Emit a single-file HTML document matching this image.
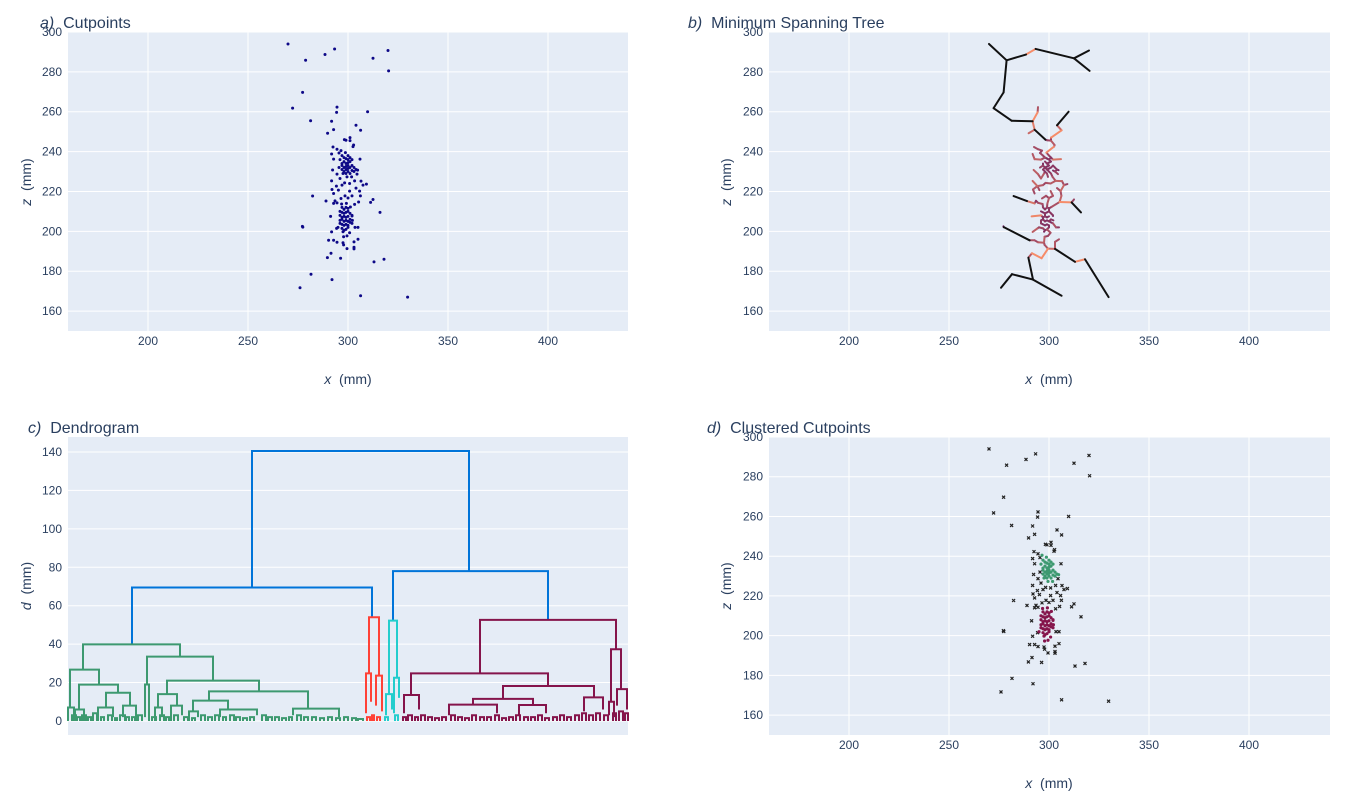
<!DOCTYPE html>
<html><head><meta charset="utf-8">
<style>
body{margin:0;background:#fff;}
svg{display:block;font-family:"Liberation Sans",sans-serif;}
.tick{font-size:12px;fill:#2a3f5f;}
.ttl{font-size:16px;fill:#2a3f5f;}
.axt{font-size:14px;fill:#2a3f5f;}
</style></head>
<body>
<svg id="fig" width="1366" height="801" viewBox="0 0 1366 801">
<g id="bg"></g>
<g id="marks"></g>
<g id="labels"></g>
<text class="ttl" x="40" y="28"><tspan font-style="italic">a)</tspan>&#160;&#160;Cutpoints</text>
<text class="ttl" x="688" y="28"><tspan font-style="italic">b)</tspan>&#160;&#160;Minimum Spanning Tree</text>
<text class="ttl" x="28" y="433"><tspan font-style="italic">c)</tspan>&#160;&#160;Dendrogram</text>
<text class="ttl" x="707" y="433"><tspan font-style="italic">d)</tspan>&#160;&#160;Clustered Cutpoints</text>
<text class="axt" x="348" y="384" text-anchor="middle"><tspan font-style="italic">x</tspan>&#160;&#160;(mm)</text>
<text class="axt" x="1049" y="384" text-anchor="middle"><tspan font-style="italic">x</tspan>&#160;&#160;(mm)</text>
<text class="axt" x="1049" y="788" text-anchor="middle"><tspan font-style="italic">x</tspan>&#160;&#160;(mm)</text>
<text class="axt" transform="translate(31,182) rotate(-90)" text-anchor="middle"><tspan font-style="italic">z</tspan>&#160;&#160;(mm)</text>
<text class="axt" transform="translate(731,182) rotate(-90)" text-anchor="middle"><tspan font-style="italic">z</tspan>&#160;&#160;(mm)</text>
<text class="axt" transform="translate(31,586) rotate(-90)" text-anchor="middle"><tspan font-style="italic">d</tspan>&#160;&#160;(mm)</text>
<text class="axt" transform="translate(731,586) rotate(-90)" text-anchor="middle"><tspan font-style="italic">z</tspan>&#160;&#160;(mm)</text>
</svg>
<script>
// ---- data ----
const noisePts=[[270,294],[293.3,291.5],[288.5,288.7],[278.8,285.8],[312.5,286.8],[320,290.7],[320.3,280.5],[277.3,269.7],[272.3,261.8],[294.5,262.3],[294.3,259.7],[309.8,260],[281.3,255.5],[291.8,255.2],[304,253.2],[292.8,251],[306.3,250.7],[289.8,249.2],[282.3,217.7],[289,215.2],[312.5,216],[311.3,214.5],[316,209.5],[277.2,202.5],[277.4,202.1],[291.5,189],[289.7,186.8],[296.3,186.5],[313,184.7],[318,186],[281.5,178.5],[292,175.8],[276,171.7],[306.3,167.7],[329.8,167],
[298.2,246],[299,245.7],[301,247],[301,245.5],[302.8,243.3],[302.5,242.5],[292.5,242.3],[294.5,241.2],[295.5,239.3],[291.8,238.8],[306,236.2],[292.8,236.2],[292.3,230.8],[295.5,232],[294.5,228.7],[291.8,225.3],[296,226.5],[304.5,228.7],[306.5,225.2],[309.2,223.7],[307.5,223.2],[303.3,225.3],[300.8,224],[298.3,224.3],[297,223.2],[294.2,222.7],[304,221.7],[300.8,220.2],[292,221],[292.8,219],[295.2,220.7],[305.8,220.2],[306.2,217.8],[302,217.8],[298.5,217.8],[296.5,216.5],[300,216.7],[305.3,214.7],[303.3,213.5],[293.5,215.3],[294.5,214.3],[292.8,214],[291.3,207.5],[303.5,202],[305,202],[294.3,201.5],[291.8,199.7],[290.3,195.5],[292.8,195.5],[294.5,194.5],[297.5,194.3],[303,194.7],[305,196],[297.8,193.2],[299.5,191.3],[303,192],[303,191.2]];
const cluster1Pts=[[297,238],[298,237],[299,236.5],[300,236],[301,237],[298,235],[299,234],[300,234.5],[301,235],[297,233],[298,232],[299,232.5],[300,233],[302,233],[296,236],[297,231],[299,231],[300,231.5],[301,232],[303,232],[298,230],[300,230],[302,230.5],[303,230],[299,229],[301,229],[304,231],[297,234],[302,236],[300,238],[297.5,229],[299.5,227.3],[301.8,227.3],[304.8,230.7],[298.7,239.5],[296.5,240.5]];
const cluster2Pts=[[297,212],[298,211],[299,212],[300,211.5],[296,210],[297,209.5],[298,209],[299,209.5],[300,210],[301,209],[296,208],[297,207],[298,207.5],[299,207],[300,207.5],[302,208],[297,206],[298,205],[299,205.5],[300,205],[301,206],[296,204],[297,203.5],[298,203],[299,203.5],[300,203],[302,204],[295,202],[297,201.5],[299,201],[300,202],[298,200.5],[301,204.5],[296,205.5],[296.8,213.7],[299.2,214],[301.2,212.2],[302,207.7],[302.2,205.5],[297.5,199.8],[300.8,199.3],[297.8,197.3],[299.5,197.7]];
// dendrogram links: [xLeft, xRight, dLeftBottom, dRightBottom, dTop, colour]  (x in leaf units 0..560)
const dendroLinks=[
[184,401,69.5,78,140.5,'b'],[64,304,39.9,54,69.5,'b'],[325,480,52.2,52.6,78,'b'],
[15,112,26.7,33.5,39.9,'g'],[2,31,7,18.9,26.7,'g'],[0,6,0,0,7,'g'],[11,50,6,14.7,18.9,'g'],[7,16,0,0,6,'g'],[38,62,7,8,14.7,'g'],[30,45,0,2,7,'g'],[55,68,2,0,8,'g'],
[79,145,19,21,33.5,'g'],[77,81,2,0,19,'g'],[99,191,14,15.4,21,'g'],[90,109,7,8,14,'g'],[87,94,0,2,7,'g'],[103,114,0,3,8,'g'],
[141,240,10.6,6.4,15.4,'g'],[125,160,5,6,10.6,'g'],[121,130,0,2,5,'g'],[152,189,2,3,6,'g'],[225,271,3,2,6.4,'g'],
[301,311,24.8,23.6,54,'r'],[298,303,4,10,24.8,'r'],[308,314,8,5,23.6,'r'],
[321,329,14,22.5,52.2,'c'],[318,324,3,6,14,'c'],[326,331,4,12,22.5,'c'],
[412,548,24.8,37.3,52.6,'p'],[343,480,13.5,18.2,24.8,'p'],[336,351,4,6,13.5,'p'],[435,526,11.5,12.3,18.2,'p'],[405,465,8.5,8.3,11.5,'p'],[381,429,3,4,8.5,'p'],[451,478,3,4,8.3,'p'],[516,535,5,6,12.3,'p'],
[543,553,10,16.6,37.3,'p'],[541,546,3,2,10,'p'],[549,559,8,6,16.6,'p']];
// small leaf-level merges: [xLeft, xRight, dTop, colour]
const dendroSmall=[[4,8,3,'g'],[9,12,2,'g'],[14,18,3,'g'],[20,23,2,'g'],[25,29,4,'g'],[33,36,2,'g'],[40,44,3,'g'],[47,49,1.5,'g'],[52,57,3,'g'],[58,61,2,'g'],[64,67,2,'g'],[70,74,3,'g'],[84,88,2,'g'],[92,96,3,'g'],[98,101,2,'g'],[106,110,3,'g'],[116,120,2,'g'],[124,127,1.5,'g'],[133,137,3,'g'],[140,144,2,'g'],[147,151,3,'g'],[155,158,2,'g'],[162,166,3,'g'],[168,172,2,'g'],[175,179,1.5,'g'],[182,186,2,'g'],[194,198,3,'g'],[200,204,2,'g'],[207,211,2,'g'],[214,218,1.5,'g'],[221,224,2,'g'],[229,233,3,'g'],[236,240,2,'g'],[244,248,2,'g'],[252,256,1.5,'g'],[260,264,2,'g'],[268,272,1.5,'g'],[276,280,2,'g'],[284,288,1.5,'g'],[290,295,1,'g'],
[299,302,2,'r'],[304,306,3,'r'],[309,312,2,'r'],[317,320,2,'c'],[327,330,3,'c'],
[335,338,2,'p'],[340,344,3,'p'],[347,350,2,'p'],[353,357,3,'p'],[360,364,2,'p'],[367,371,1.5,'p'],[374,378,2,'p'],[383,387,3,'p'],[390,394,2,'p'],[397,401,1.5,'p'],[404,408,3,'p'],[412,416,2,'p'],[419,423,2,'p'],[427,431,3,'p'],[434,438,1.5,'p'],[441,445,2,'p'],[448,452,3,'p'],[456,460,2,'p'],[463,467,2,'p'],[470,474,3,'p'],[477,481,1.5,'p'],[485,489,2,'p'],[492,496,3,'p'],[499,503,2,'p'],[507,511,3,'p'],[514,518,4,'p'],[521,525,3,'p'],[528,532,4,'p'],[536,540,3,'p'],[545,548,4,'p'],[551,555,5,'p'],[557,560,4,'p']];
const xTicks=[200,250,300,350,400];
const zTicks=[160,180,200,220,240,260,280,300];
const dTicks=[0,20,40,60,80,100,120,140];
const dendroColors={b:'rgb(0,116,217)',g:'rgb(61,153,112)',r:'rgb(255,65,54)',c:'rgb(35,205,205)',p:'rgb(133,20,75)'};

// ---- helpers ----
const NS='http://www.w3.org/2000/svg';
const bg=document.getElementById('bg'),mk=document.getElementById('marks'),lb=document.getElementById('labels');
function el(tag,attrs,parent){const e=document.createElementNS(NS,tag);for(const k in attrs)e.setAttribute(k,attrs[k]);parent.appendChild(e);return e;}
function scale(d0,d1,p0,p1){return v=>p0+(v-d0)*(p1-p0)/(d1-d0);}
const panels={
 a:{x0:68,x1:628,y0:32,y1:331,sx:scale(160,440,68,628),sy:scale(150,300,331,32)},
 b:{x0:769,x1:1330,y0:32,y1:331,sx:scale(160,440,769,1329),sy:scale(150,300,331,32)},
 c:{x0:68,x1:628,y0:437,y1:735,sx:scale(0,560,68,628),sy:scale(-7.3,147.8,735,437)},
 d:{x0:769,x1:1330,y0:437,y1:735,sx:scale(160,440,769,1329),sy:scale(150,300,735,437)}
};
for(const key in panels){
 const p=panels[key];
 const r=el('rect',{x:p.x0,y:p.y0,width:p.x1-p.x0,height:p.y1-p.y0,fill:'#e5ecf6'},bg);
 
 
 const yt=key==='c'?dTicks:zTicks;
 yt.forEach(t=>{const y=p.sy(t);
  const g=el('line',{x1:p.x0,x2:p.x1,y1:y,y2:y,stroke:'#fff','stroke-width':1},bg);
  
  
  const tx=el('text',{x:p.x0-6,y:y+4,'text-anchor':'end',class:'tick'},lb);tx.textContent=t;
  
  
 });
 if(key!=='c'){xTicks.forEach(t=>{const x=p.sx(t);
  const g=el('line',{x1:x,x2:x,y1:p.y0,y2:p.y1,stroke:'#fff','stroke-width':1},bg);
  
  
  const tx=el('text',{x:x,y:p.y1+14,'text-anchor':'middle',class:'tick'},lb);tx.textContent=t;
  
  
 });}
}
const allPts=noisePts.concat(cluster1Pts,cluster2Pts);
// panel a
allPts.forEach(pt=>{const c=el('circle',{cx:panels.a.sx(pt[0]),cy:panels.a.sy(pt[1]),r:1.5,fill:'#0d0887'},mk);
 
 });
// panel b: minimum spanning tree (Prim)
(function(){
 const n=allPts.length,inT=new Array(n).fill(false),best=new Array(n).fill(Infinity),par=new Array(n).fill(-1);best[0]=0;
 const edges=[];
 for(let it=0;it<n;it++){let u=-1;for(let i=0;i<n;i++)if(!inT[i]&&(u<0||best[i]<best[u]))u=i;inT[u]=true;if(par[u]>=0)edges.push([par[u],u,best[u]]);
  for(let v=0;v<n;v++)if(!inT[v]){const d=Math.hypot(allPts[u][0]-allPts[v][0],allPts[u][1]-allPts[v][1]);if(d<best[v]){best[v]=d;par[v]=u;}}}
 function col(L){if(L>6.5)return '#111';const t=Math.min(1,L/5);const a=[95,22,95],b=[246,140,105];return 'rgb('+a.map((v,i)=>Math.round(v+(b[i]-v)*t)).join(',')+')';}
 const P=panels.b;
 edges.sort((e1,e2)=>e1[2]-e2[2]).forEach(e=>{
  const l=el('line',{x1:P.sx(allPts[e[0]][0]),y1:P.sy(allPts[e[0]][1]),x2:P.sx(allPts[e[1]][0]),y2:P.sy(allPts[e[1]][1]),stroke:col(e[2]),'stroke-width':2,'stroke-linecap':'round'},mk);
  
  
 });
})();
// panel c: dendrogram
(function(){const P=panels.c;
 dendroSmall.forEach(s=>{const d='M'+P.sx(s[0])+','+P.sy(0)+'V'+P.sy(s[2])+'H'+P.sx(s[1])+'V'+P.sy(0);
  const p=el('path',{d:d,fill:'none',stroke:dendroColors[s[3]],'stroke-width':2},mk);
  
  });
 dendroLinks.forEach(s=>{const d='M'+P.sx(s[0])+','+P.sy(s[2])+'V'+P.sy(s[4])+'H'+P.sx(s[1])+'V'+P.sy(s[3]);
  const p=el('path',{d:d,fill:'none',stroke:dendroColors[s[5]],'stroke-width':2},mk);
  
  });
})();
// panel d: clustered
(function(){const P=panels.d;
 noisePts.forEach(pt=>{const x=P.sx(pt[0]),y=P.sy(pt[1]);
  const p=el('path',{d:'M'+(x-1.5)+','+(y-1.5)+'L'+(x+1.5)+','+(y+1.5)+'M'+(x-1.5)+','+(y+1.5)+'L'+(x+1.5)+','+(y-1.5),stroke:'#222','stroke-width':1.2},mk);
  
  });
 cluster1Pts.forEach(pt=>{const c=el('circle',{cx:P.sx(pt[0]),cy:P.sy(pt[1]),r:1.6,fill:'rgb(61,153,112)'},mk);
  
  });
 cluster2Pts.forEach(pt=>{const c=el('circle',{cx:P.sx(pt[0]),cy:P.sy(pt[1]),r:1.6,fill:'rgb(133,20,75)'},mk);
  
  });
})();
</script>
</body></html>
